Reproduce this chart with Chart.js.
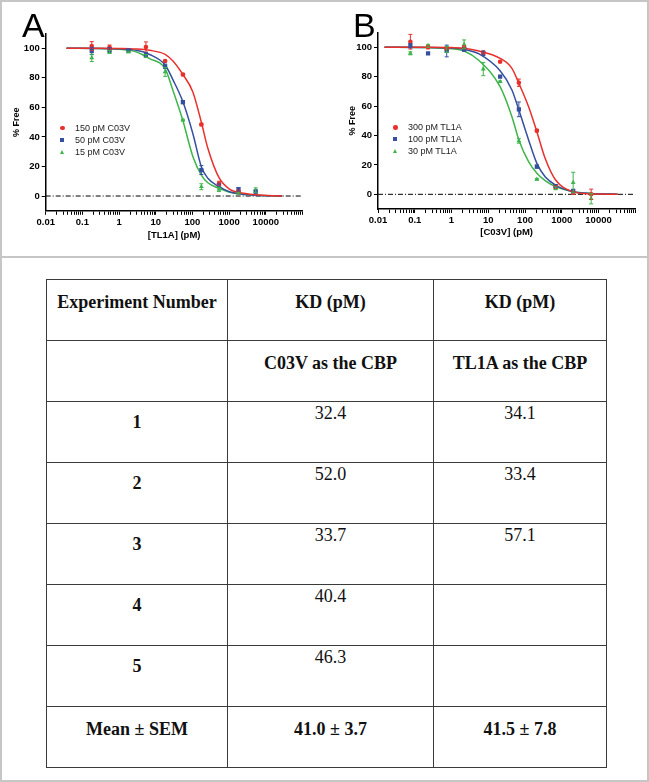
<!DOCTYPE html>
<html>
<head>
<meta charset="utf-8">
<script src="https://cdn.jsdelivr.net/npm/chart.js@4.4.1/dist/chart.umd.min.js"></script>
<style>
  body { margin: 0; background: #fff; }
  #page { position: relative; width: 649px; height: 782px; background: #fff; overflow: hidden; }
  #frame { position: absolute; left: 0; top: 0; width: 649px; height: 782px; box-sizing: border-box; border: 2px solid #c6c6c6; pointer-events: none; }
  #sep { position: absolute; left: 0; top: 256px; width: 649px; height: 2px; background: #c6c6c6; }
  canvas { position: absolute; top: 0; }
  .panel { position: absolute; font-family: "Liberation Sans", Arial, sans-serif; font-size: 34px; line-height: 34px; color: #000; }
  .leg { position: absolute; font-family: "Liberation Sans", Arial, sans-serif; font-size: 9px; line-height: 12px; color: #222; white-space: nowrap; }
  .mk { position: absolute; }
  table { position: absolute; left: 46px; top: 279px; border-collapse: collapse; font-family: "Liberation Serif", "Times New Roman", serif; font-size: 18px; color: #111; }
  td { border: 1.5px solid #3a3a3a; height: 59px; padding: 1px 0 0 0; text-align: center; vertical-align: top; line-height: 20px; }
  td.b { font-weight: bold; padding-top: 12px; height: 48px; }
  td.n { font-weight: bold; padding-top: 10px; height: 50px; }
</style>
</head>
<body>
<div id="page">
  <canvas id="chartA" width="320" height="250" style="left:0"></canvas>
  <canvas id="chartB" width="329" height="250" style="left:320px"></canvas>
  <div class="panel" style="left:22px; top:8px">A</div>
  <div class="panel" style="left:353px; top:8px">B</div>
  <div id="legA"></div>
  <div id="legB"></div>
  <div id="sep"></div>
  <table id="kd"></table>
  <div id="frame"></div>
</div>
<script>
// ---- panel A: titration with [TL1A] ----
const doseA = [0.18, 0.55, 1.8, 5.4, 18, 55, 175, 530, 1800, 5300];
const redA = [101.5, 100.7, null, 100.8, 91.4, 82.2, 48.4, 8.5, 3, null];
const redAErr = [3, 1.5, 0, 3.5, 0.5, 0.8, 0.8, 1.5, 1, 0];
const blueA = [98.2, 98.9, 98.5, 95.7, 87.8, 63.5, 17.6, 7.2, 4.5, 3];
const blueAErr = [2.5, 1.5, 0, 1.5, 1.5, 1, 3, 1, 1.2, 1];
const greenA = [93.5, 97.5, 97.5, 94.8, 84, 51.4, 6.3, 4.5, 2, 4];
const greenAErr = [2.5, 1, 0.5, 1, 3, 0.5, 2, 1.5, 0.5, 1.5];

// fitted curves
const curveXA = [0.037, 0.3, 1, 3, 6.8, 18, 29, 55, 102, 175, 263, 530, 1020, 1800, 5300, 28000];
const redCurveA = [100, 100, 99.9, 99.5, 98.6, 95.9, 91.5, 82.2, 70.6, 49.9, 32.3, 12.4, 4.7, 2.5, 0.8, 0];
const blueCurveA = [100, 99.9, 99.6, 98.6, 95.8, 88.7, 79, 63.8, 42.5, 19.8, 12, 6.3, 2.9, 1.5, 0.5, 0];
const greenCurveA = [100, 99.8, 99.3, 97.5, 93, 86, 72, 51, 27, 14.2, 9, 5.2, 2.6, 1.5, 0.5, 0];
const legendA = ['150 pM C03V', '50 pM C03V', '15 pM C03V'];

// ---- panel B: titration with [C03V] ----
const doseB = [0.076, 0.23, 0.74, 2.2, 7.3, 21, 68, 210, 680, 2040, 6300];
const redB = [103.8, 100, 99.4, 100, 96.4, 90.2, 75.9, 43.3, 5, 1, 0];
const redBErr = [5, 1, 1, 1, 1, 0.5, 2.5, 0.8, 1, 1, 3.5];
const blueB = [101.1, 95.9, 97.5, 98.5, 95.9, 80, 57.8, 18.8, 5.6, 2.3, null];
const blueBErr = [1.5, 0.5, 4, 1, 1.5, 0.5, 5, 1, 1, 1, 0];
const greenB = [95.9, 101, 98.5, 102, 85.2, 76.6, 36.3, 10.2, 4.1, 8, -3];
const greenBErr = [1, 1, 2, 3, 4.5, 0.5, 1.5, 0.5, 1, 7, 3.5];

const curveXB = [0.015, 0.2, 1, 2.2, 5.6, 21, 44, 68, 125, 210, 352, 680, 2040, 6300, 33000];
const redCurveB = [100, 100, 99.8, 99.4, 97.5, 92.5, 85.7, 75.5, 59.6, 42.6, 24.5, 9.7, 1.8, 0.3, 0];
const blueCurveB = [100, 99.9, 99.5, 98.6, 95.5, 84, 71, 57.3, 37, 21, 12, 6.3, 1.8, 0.6, 0];
const greenCurveB = [100, 99.8, 99, 97.5, 91, 73.2, 52.8, 37, 22.2, 14.3, 9.3, 5.2, 1.8, 0.6, 0];
const legendB = ['300 pM TL1A', '100 pM TL1A', '30 pM TL1A'];

const xTickLabels = ['0.01', '0.1', '1', '10', '100', '1000', '10000'];
const yTicks = [0, 20, 40, 60, 80, 100];

// ---- table ----
const tableHead = ['Experiment Number', 'KD (pM)', 'KD (pM)'];
const tableSub = ['', 'C03V as the CBP', 'TL1A as the CBP'];
const expNumbers = ['1', '2', '3', '4', '5'];
const kdC03V = ['32.4', '52.0', '33.7', '40.4', '46.3'];
const kdTL1A = ['34.1', '33.4', '57.1', '', ''];
const meanRow = ['Mean ± SEM', '41.0 ± 3.7', '41.5 ± 7.8'];

const RED = '#e8302c', BLUE = '#34509f', GREEN = '#3db54a';
const FONT = '"Liberation Sans", Arial, sans-serif';

function pts(xs, ys, errs) {
  const out = [];
  xs.forEach((x, i) => { if (ys[i] !== null) out.push({x: x, y: ys[i], err: errs ? errs[i] : 0}); });
  return out;
}

// vertical error bars with small caps
const errorBars = {
  id: 'errorBars',
  afterDatasetsDraw(chart) {
    const ctx = chart.ctx;
    const ys = chart.scales.y;
    chart.data.datasets.forEach((ds, i) => {
      if (!ds.errBars) return;
      const meta = chart.getDatasetMeta(i);
      ctx.save();
      ctx.strokeStyle = ds.borderColor;
      ctx.lineWidth = 1;
      meta.data.forEach((el, j) => {
        const d = ds.data[j];
        if (!d.err) return;
        const top = ys.getPixelForValue(d.y + d.err);
        const bot = ys.getPixelForValue(d.y - d.err);
        ctx.beginPath();
        ctx.moveTo(el.x, top); ctx.lineTo(el.x, bot);
        ctx.moveTo(el.x - 2, top); ctx.lineTo(el.x + 2, top);
        ctx.moveTo(el.x - 2, bot); ctx.lineTo(el.x + 2, bot);
        ctx.stroke();
      });
      ctx.restore();
    });
  }
};

function logTicks() {
  const t = [];
  for (let e = -2; e <= 5; e++) {
    for (let m = 1; m <= 9; m++) {
      const v = Number((m * Math.pow(10, e)).toPrecision(3));
      if (v <= 1e5) t.push({value: v});
    }
  }
  return t;
}

function makeChart(id, o) {
  const datasets = [
    {type: 'line', data: [{x: 0.01, y: 0}, {x: 1e5, y: 0}], borderColor: '#000', borderWidth: 1,
      borderDash: [5, 2, 1, 2], pointRadius: 0, order: 3},
    {type: 'line', data: pts(o.cx, o.curves[0]), borderColor: RED, borderWidth: 1.5, pointRadius: 0, cubicInterpolationMode: 'monotone', order: 2},
    {type: 'line', data: pts(o.cx, o.curves[1]), borderColor: BLUE, borderWidth: 1.5, pointRadius: 0, cubicInterpolationMode: 'monotone', order: 2},
    {type: 'line', data: pts(o.cx, o.curves[2]), borderColor: GREEN, borderWidth: 1.5, pointRadius: 0, cubicInterpolationMode: 'monotone', order: 2},
    {type: 'scatter', data: pts(o.dx, o.pts[0], o.errs[0]), errBars: true, borderColor: RED, backgroundColor: RED, pointStyle: 'circle', pointRadius: 2.3, borderWidth: 0, order: 1},
    {type: 'scatter', data: pts(o.dx, o.pts[1], o.errs[1]), errBars: true, borderColor: BLUE, backgroundColor: BLUE, pointStyle: 'rect', pointRadius: 3, borderWidth: 0, order: 1},
    {type: 'scatter', data: pts(o.dx, o.pts[2], o.errs[2]), errBars: true, borderColor: GREEN, backgroundColor: GREEN, pointStyle: 'triangle', pointRadius: 2.8, borderWidth: 0, order: 1}
  ];
  return new Chart(document.getElementById(id), {
    data: {datasets: datasets},
    plugins: [errorBars],
    options: {
      responsive: false,
      animation: false,
      layout: {padding: {top: o.padTop, right: o.padRight, left: 0, bottom: 0}},
      plugins: {legend: {display: false}, tooltip: {enabled: false}},
      scales: {
        x: {
          type: 'logarithmic', min: 0.01, max: 1e5,
          afterBuildTicks: s => { s.ticks = logTicks(); },
          afterFit: s => { s.height = o.xHeight; },
          grid: {drawOnChartArea: false, drawTicks: true, tickLength: 4, color: '#000'},
          border: {display: true, color: '#000', width: 1.5},
          ticks: {
            autoSkip: false, maxRotation: 0, padding: 2, color: '#000',
            font: {family: FONT, size: 9.5, weight: 'bold'},
            callback: v => {
              const l = Math.log10(v);
              if (Math.abs(l - Math.round(l)) > 1e-9) return '';
              return xTickLabels[Math.round(l) + 2] || '';
            }
          },
          title: {display: true, text: o.xTitle, color: '#000', font: {family: FONT, size: 9.5, weight: 'bold'},
            padding: {top: 0, bottom: o.xTitlePad}}
        },
        y: {
          min: -10, max: 110,
          afterBuildTicks: s => { s.ticks = yTicks.map(v => ({value: v})); },
          afterFit: s => { s.width = o.yWidth; },
          grid: {drawOnChartArea: false, drawTicks: true, tickLength: 4, color: '#000'},
          border: {display: true, color: '#000', width: 1.5},
          ticks: {padding: 2, color: '#000', font: {family: FONT, size: 9.5, weight: 'bold'}},
          title: {display: true, text: '% Free', color: '#000', font: {family: FONT, size: 9, weight: 'bold'},
            padding: {top: o.yTitlePad, bottom: 0}}
        }
      }
    }
  });
}

makeChart('chartA', {
  dx: doseA, pts: [redA, blueA, greenA], errs: [redAErr, blueAErr, greenAErr],
  cx: curveXA, curves: [redCurveA, blueCurveA, greenCurveA],
  padTop: 33.5, padRight: 17.5, xHeight: 39.2, yWidth: 45.7,
  xTitle: '[TL1A] (pM)', xTitlePad: 9.3, yTitlePad: 11.6
});
makeChart('chartB', {
  dx: doseB, pts: [redB, blueB, greenB], errs: [redBErr, blueBErr, greenBErr],
  cx: curveXB, curves: [redCurveB, blueCurveB, greenCurveB],
  padTop: 32.6, padRight: 13.7, xHeight: 41, yWidth: 58,
  xTitle: '[C03V] (pM)', xTitlePad: 12.3, yTitlePad: 27.6
});

// html legends inside the plot areas
function legend(el, labels, mx, tx, y0) {
  const colors = [RED, BLUE, GREEN];
  let html = '';
  labels.forEach((lab, i) => {
    const cy = y0 + i * 12;
    let mk;
    if (i === 0) mk = `<div class="mk" style="left:${mx - 2}px;top:${cy - 2}px;width:4.5px;height:4.5px;border-radius:50%;background:${colors[i]}"></div>`;
    else if (i === 1) mk = `<div class="mk" style="left:${mx - 2}px;top:${cy - 2}px;width:4.2px;height:4.2px;background:${colors[i]}"></div>`;
    else mk = `<div class="mk" style="left:${mx - 2.5}px;top:${cy - 2}px;width:0;height:0;border-left:2.5px solid transparent;border-right:2.5px solid transparent;border-bottom:4px solid ${colors[i]}"></div>`;
    html += mk + `<div class="leg" style="left:${tx}px;top:${cy - 6}px">${lab}</div>`;
  });
  document.getElementById(el).innerHTML = html;
}
legend('legA', legendA, 62, 75, 127.5);
legend('legB', legendB, 395, 408, 127);

// table
const widths = [180, 205, 172];
let rows = '<tr>' + tableHead.map((t, i) => `<td class="b" style="width:${widths[i]}px">${t}</td>`).join('') + '</tr>';
rows += '<tr>' + tableSub.map(t => `<td class="b">${t}</td>`).join('') + '</tr>';
expNumbers.forEach((n, i) => {
  rows += `<tr><td class="n">${n}</td><td>${kdC03V[i]}</td><td>${kdTL1A[i]}</td></tr>`;
});
rows += '<tr>' + meanRow.map(t => `<td class="b">${t}</td>`).join('') + '</tr>';
document.getElementById('kd').innerHTML = rows;
</script>
</body>
</html>
